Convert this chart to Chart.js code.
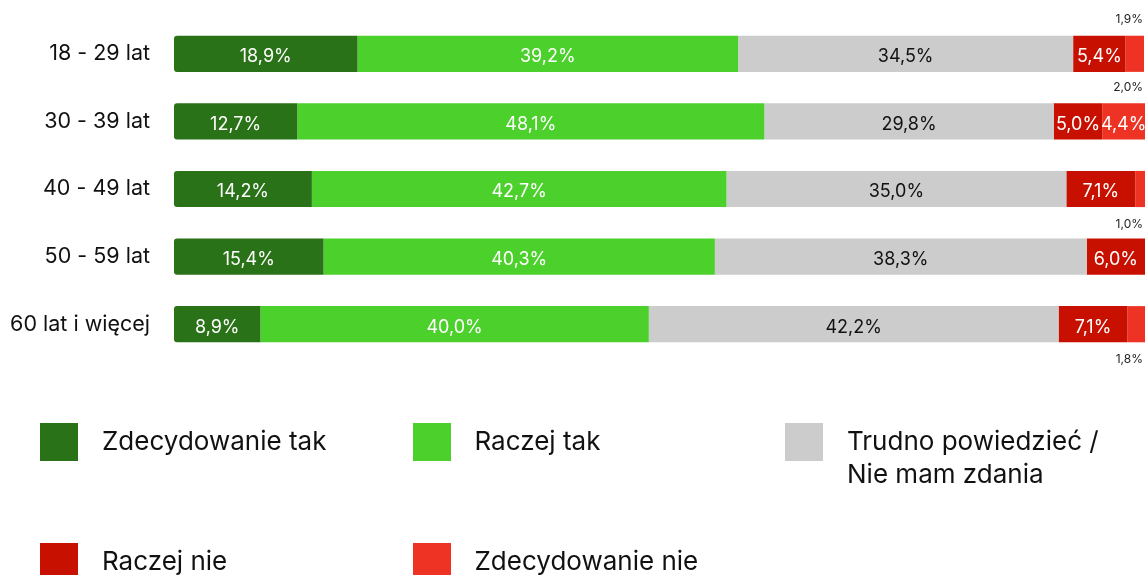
<!DOCTYPE html>
<html>
<head>
<meta charset="utf-8">
<script src="https://cdn.jsdelivr.net/npm/chart.js@4.4.0/dist/chart.umd.min.js"></script>
<style>
  html, body { margin: 0; padding: 0; background: #fff; }
  body { width: 1145px; height: 575px; position: relative; overflow: hidden; font-family: Inter, "Noto Sans", sans-serif; }
  #wrap { position: absolute; left: 0; top: 0; width: 1145px; height: 380px; }
  #legend { position: absolute; left: 0; top: 0; width: 1145px; height: 575px; pointer-events: none; }
  .lg-box { position: absolute; width: 38px; height: 38px; }
  .lg-text { position: absolute; font-size: 26px; line-height: 33px; color: #111; white-space: nowrap; }
</style>
</head>
<body>
<div id="wrap"><canvas id="c"></canvas></div>
<div id="legend"></div>
<script>
const categories = ["18 - 29 lat", "30 - 39 lat", "40 - 49 lat", "50 - 59 lat", "60 lat i więcej"];
const seriesNames = ["Zdecydowanie tak", "Raczej tak", "Trudno powiedzieć /\nNie mam zdania", "Raczej nie", "Zdecydowanie nie"];
const zdecydowanieTak = [18.9, 12.7, 14.2, 15.4, 8.9];
const raczejTak = [39.2, 48.1, 42.7, 40.3, 40.0];
const trudnoPowiedziec = [34.5, 29.8, 35.0, 38.3, 42.2];
const raczejNie = [5.4, 5.0, 7.1, 6.0, 7.1];
const zdecydowanieNie = [1.9, 4.4, 1.0, 0, 1.8];
// small outside annotations: [row index, text, placement]
const outsideLabels = [[0, "1,9%", "above"], [1, "2,0%", "above"], [2, "1,0%", "below"], [4, "1,8%", "below"]];

const colors = ["#2A7217", "#4CD02C", "#CCCCCC", "#C81000", "#EE3324"];
const labelColors = ["#ffffff", "#ffffff", "#111111", "#ffffff", "#ffffff"];
const seriesValues = [zdecydowanieTak, raczejTak, trudnoPowiedziec, raczejNie, zdecydowanieNie];

const fmt = v => v.toFixed(1).replace(".", ",") + "%";

const datasets = seriesValues.map((vals, i) => ({
  label: seriesNames[i],
  data: vals,
  backgroundColor: colors[i],
  borderWidth: 0,
  borderSkipped: false,
  borderRadius: i === 0 ? { topLeft: 3, bottomLeft: 3, topRight: 0, bottomRight: 0 } : 0,
  barPercentage: 0.535,
  categoryPercentage: 1.0
}));

const labelPlugin = {
  id: "segLabels",
  afterDatasetsDraw(chart) {
    const ctx = chart.ctx;
    ctx.save();
    ctx.textBaseline = "middle";
    ctx.textAlign = "center";
    ctx.font = "18px Inter, 'Noto Sans', sans-serif";
    chart.data.datasets.forEach((ds, di) => {
      const meta = chart.getDatasetMeta(di);
      meta.data.forEach((bar, idx) => {
        const v = ds.data[idx];
        if (v < 4) return;
        ctx.fillStyle = labelColors[di];
        ctx.fillText(fmt(v), (bar.x + bar.base) / 2, bar.y + 3);
      });
    });
    ctx.font = "12px Inter, 'Noto Sans', sans-serif";
    ctx.fillStyle = "#222";
    ctx.textAlign = "right";
    const lastMeta = chart.getDatasetMeta(4);
    outsideLabels.forEach(([row, txt, pos]) => {
      const bar = lastMeta.data[row];
      const h = bar.height;
      const y = pos === "above" ? bar.y - h / 2 - 16 : bar.y + h / 2 + 17;
      ctx.fillText(txt, chart.chartArea.right - 2, y);
    });
    ctx.restore();
  }
};

new Chart(document.getElementById("c"), {
  type: "bar",
  data: { labels: categories, datasets },
  options: {
    indexAxis: "y",
    responsive: true,
    maintainAspectRatio: false,
    animation: false,
    layout: { padding: { top: 20, bottom: 22, left: 0, right: 0 } },
    plugins: { legend: { display: false }, tooltip: { enabled: false } },
    scales: {
      x: { stacked: true, min: 0, max: 100, display: false },
      y: {
        stacked: true,
        grid: { display: false, drawTicks: false },
        border: { display: false },
        ticks: { color: "#111", font: { size: 21.5, family: "Inter, 'Noto Sans', sans-serif" }, padding: 24 },
        afterFit(scale) { scale.width = 174; scale.paddingTop = 0; scale.paddingBottom = 0; }
      }
    }
  },
  plugins: [labelPlugin]
});

const legend = document.getElementById("legend");
seriesNames.forEach((name, i) => {
  const col = i % 3, row = Math.floor(i / 3);
  const left = 40 + col * 372.5;
  const top = 423 + row * 120;
  const box = document.createElement("div");
  box.className = "lg-box";
  box.style.left = left + "px";
  box.style.top = top + "px";
  box.style.background = colors[i];
  legend.appendChild(box);
  const t = document.createElement("div");
  t.className = "lg-text";
  t.style.left = (left + 62) + "px";
  t.style.top = (top + 1) + "px";
  t.innerHTML = name.split("\n").join("<br>");
  legend.appendChild(t);
});
</script>
</body>
</html>
